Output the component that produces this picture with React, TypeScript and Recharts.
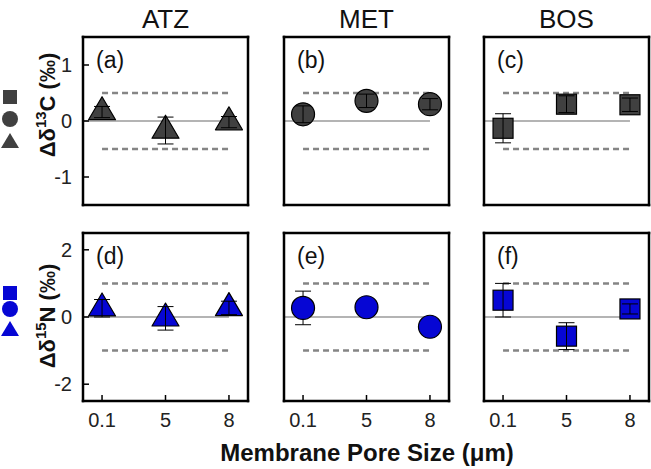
import React from "react";
import {
  ScatterChart,
  Scatter,
  XAxis,
  YAxis,
  ErrorBar,
  ReferenceLine,
} from "recharts";

// pore size categories (plotted at index 0,1,2)
const poreSizes = ["0.1", "5", "8"];
const compounds = ["ATZ", "MET", "BOS"];

// carbon isotope shifts (permil) and error bars
const atzC = [0.16, -0.17, -0.02];
const atzCErr = [0.1, 0.24, 0.1];
const metC = [0.12, 0.36, 0.3];
const metCErr = [0.15, 0.12, 0.1];
const bosC = [-0.13, 0.3, 0.29];
const bosCErr = [0.26, 0.15, 0.12];

// nitrogen isotope shifts (permil) and error bars
const atzN = [0.26, -0.04, 0.27];
const atzNErr = [0.26, 0.35, 0.2];
const metN = [0.27, 0.29, -0.29];
const metNErr = [0.5, 0.08, 0.08];
const bosN = [0.5, -0.57, 0.24];
const bosNErr = [0.5, 0.4, 0.15];

const cTicks = [-1, 0, 1];
const nTicks = [-2, 0, 2];

const GRAY = "#404040";
const BLUE = "#0606d4";
const FONT = "'Liberation Sans', Arial, sans-serif";

const colLeft = [83, 284, 484];
const rowTop = [37, 233];
const plotW = 165;
const plotH = 168;
const axisW = 40;
const axisH = 40;

type ShapeKind = "triangle" | "circle" | "square";

function Marker({ cx, cy, kind, color }: { cx?: number; cy?: number; kind: ShapeKind; color: string }) {
  if (cx == null || cy == null) return null;
  if (kind === "circle") {
    return <circle cx={cx} cy={cy} r={11.5} fill={color} stroke="#000" strokeWidth={1.2} />;
  }
  if (kind === "square") {
    return <rect x={cx - 10} y={cy - 10} width={20} height={20} fill={color} stroke="#000" strokeWidth={1.2} />;
  }
  const h = 23;
  const b = 13.5;
  return (
    <polygon
      points={`${cx},${cy - (2 * h) / 3} ${cx - b},${cy + h / 3} ${cx + b},${cy + h / 3}`}
      fill={color}
      stroke="#000"
      strokeWidth={1.2}
      strokeLinejoin="round"
    />
  );
}

interface PanelProps {
  values: number[];
  errs: number[];
  kind: ShapeKind;
  color: string;
  domain: [number, number];
  ticks: number[];
  band: number;
  col: number;
  row: number;
  tag: string;
  errOnTop?: boolean;
}

function Panel({ values, errs, kind, color, domain, ticks, band, col, row, tag, errOnTop = true }: PanelProps) {
  const data = values.map((v, i) => ({ x: i, y: v, err: errs[i] }));
  const showY = col === 0;
  const showX = row === 1;
  const axisLine = { stroke: "#000", strokeWidth: 2.5, strokeLinecap: "square" as const };
  const tickLine = { stroke: "#000", strokeWidth: 1.5 };
  const tickStyle = { fontFamily: FONT, fontSize: 20, fill: "#222" };
  return (
    <div style={{ position: "absolute", left: colLeft[col] - axisW, top: rowTop[row] - 3 }}>
      <ScatterChart
        width={axisW + plotW + 5}
        height={plotH + axisH + 3}
        margin={{ top: 2, right: 4, left: 0, bottom: 0 }}
      >
        <XAxis
          xAxisId="b"
          type="number"
          dataKey="x"
          domain={[-0.3, 2.3]}
          ticks={[0, 1, 2]}
          tickFormatter={(i: number) => poreSizes[i]}
          allowDataOverflow
          height={axisH}
          tickSize={-6}
          tickMargin={18}
          tick={showX ? tickStyle : false}
          axisLine={axisLine}
          tickLine={tickLine}
        />
        <XAxis
          xAxisId="t"
          orientation="top"
          type="number"
          dataKey="x"
          domain={[-0.3, 2.3]}
          ticks={[0, 1, 2]}
          allowDataOverflow
          height={1}
          tickSize={-6}
          tick={false}
          axisLine={axisLine}
          tickLine={tickLine}
        />
        <YAxis
          yAxisId="l"
          type="number"
          dataKey="y"
          domain={domain}
          ticks={ticks}
          allowDataOverflow
          width={axisW}
          tickSize={-6}
          tickMargin={17}
          tick={showY ? tickStyle : false}
          axisLine={axisLine}
          tickLine={tickLine}
        />
        <YAxis
          yAxisId="r"
          orientation="right"
          type="number"
          dataKey="y"
          domain={domain}
          ticks={ticks}
          allowDataOverflow
          width={1}
          tickSize={-6}
          tick={false}
          axisLine={axisLine}
          tickLine={tickLine}
        />
        <ReferenceLine
          xAxisId="b"
          yAxisId="l"
          segment={[{ x: 0, y: band }, { x: 2, y: band }]}
          stroke="#858585"
          strokeWidth={2.5}
          strokeDasharray="6 4"
        />
        <ReferenceLine
          xAxisId="b"
          yAxisId="l"
          segment={[{ x: 0, y: -band }, { x: 2, y: -band }]}
          stroke="#858585"
          strokeWidth={2.5}
          strokeDasharray="6 4"
        />
        <ReferenceLine
          xAxisId="b"
          yAxisId="l"
          segment={[{ x: -0.3, y: 0 }, { x: 2, y: 0 }]}
          stroke="#b4b4b4"
          strokeWidth={2}
        />
        {!errOnTop && (
          <Scatter xAxisId="b" yAxisId="l" data={data} isAnimationActive={false} shape={() => <g />}>
            <ErrorBar dataKey="err" direction="y" width={8} stroke="#000" strokeWidth={1} />
          </Scatter>
        )}
        <Scatter
          xAxisId="b"
          yAxisId="l"
          data={data}
          isAnimationActive={false}
          shape={(p: any) => <Marker cx={p.cx} cy={p.cy} kind={kind} color={color} />}
        />
        {errOnTop && (
          <Scatter
            xAxisId="b"
            yAxisId="l"
            data={data}
            isAnimationActive={false}
            zIndex={900}
            shape={() => <g />}
          >
            <ErrorBar dataKey="err" direction="y" width={8} stroke="#000" strokeWidth={1} zIndex={900} />
          </Scatter>
        )}
      </ScatterChart>
      <div
        style={{
          position: "absolute",
          left: axisW + 13,
          top: 15,
          fontFamily: FONT,
          fontSize: 23,
          color: "#111",
          lineHeight: 1,
        }}
      >
        ({tag})
      </div>
    </div>
  );
}

function LegendMarks({ color, y }: { color: string; y: number[] }) {
  return (
    <g fill={color}>
      <rect x={3} y={y[0] - 7} width={14} height={14} />
      <circle cx={10} cy={y[1]} r={8} />
      <polygon points={`10,${y[2] - 8} 1,${y[2] + 7} 19,${y[2] + 7}`} />
    </g>
  );
}

export default function App() {
  return (
    <div style={{ position: "absolute", left: 0, top: 0, width: 651, height: 469, background: "#fff", fontFamily: FONT }}>
      <Panel values={atzC} errs={atzCErr} kind="triangle" color={GRAY} domain={[-1.5, 1.5]} ticks={cTicks} band={0.5} col={0} row={0} tag="a" />
      <Panel values={metC} errs={metCErr} kind="circle" color={GRAY} domain={[-1.5, 1.5]} ticks={cTicks} band={0.5} col={1} row={0} tag="b" />
      <Panel values={bosC} errs={bosCErr} kind="square" color={GRAY} domain={[-1.5, 1.5]} ticks={cTicks} band={0.5} col={2} row={0} tag="c" />
      <Panel values={atzN} errs={atzNErr} kind="triangle" color={BLUE} domain={[-2.5, 2.5]} ticks={nTicks} band={1} col={0} row={1} tag="d" />
      <Panel values={metN} errs={metNErr} kind="circle" color={BLUE} domain={[-2.5, 2.5]} ticks={nTicks} band={1} col={1} row={1} tag="e" errOnTop={false} />
      <Panel values={bosN} errs={bosNErr} kind="square" color={BLUE} domain={[-2.5, 2.5]} ticks={nTicks} band={1} col={2} row={1} tag="f" />
      <svg
        width={651}
        height={469}
        style={{ position: "absolute", left: 0, top: 0, pointerEvents: "none" }}
      >
        {compounds.map((c, i) => (
          <text key={c} x={colLeft[i] + plotW / 2} y={28} textAnchor="middle" fontSize={26} fill="#111">
            {c}
          </text>
        ))}
        <LegendMarks color={GRAY} y={[97, 119, 141]} />
        <LegendMarks color={BLUE} y={[293, 309, 329]} />
        <text transform="translate(55,105) rotate(-90)" textAnchor="middle" fontSize={22} fontWeight="bold" fill="#111">
          Δδ<tspan dy={-9} fontSize={15}>13</tspan>
          <tspan dy={9}>C (‰)</tspan>
        </text>
        <text transform="translate(55,316) rotate(-90)" textAnchor="middle" fontSize={22} fontWeight="bold" fill="#111">
          Δδ<tspan dy={-9} fontSize={15}>15</tspan>
          <tspan dy={9}>N (‰)</tspan>
        </text>
        <text x={367} y={461} textAnchor="middle" fontSize={24} fontWeight="bold" fill="#111">
          Membrane Pore Size (μm)
        </text>
      </svg>
    </div>
  );
}
